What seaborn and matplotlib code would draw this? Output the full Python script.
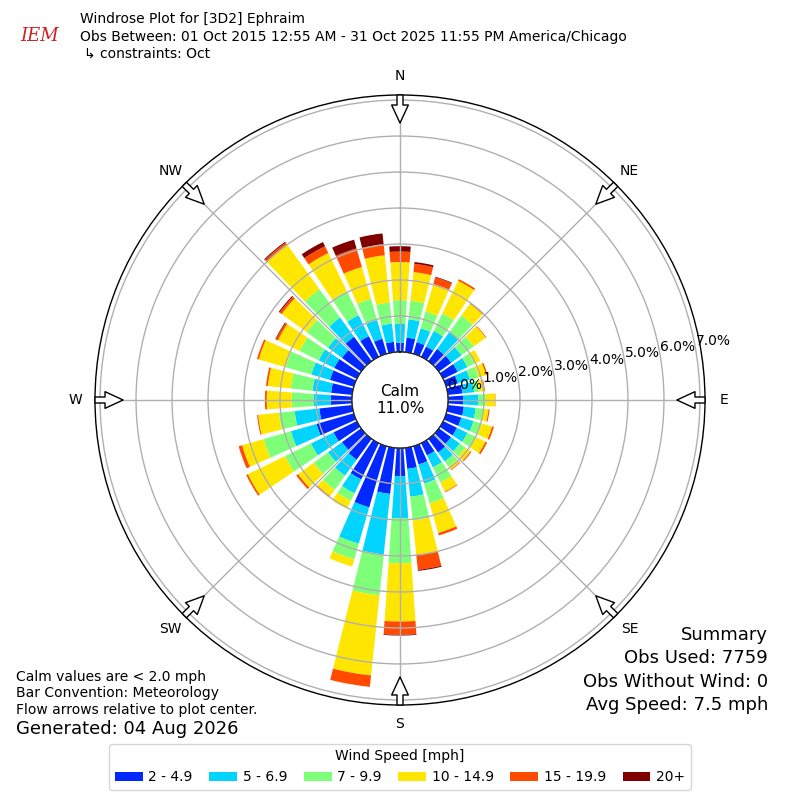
import numpy as np
import pandas as pd
import matplotlib
matplotlib.use("Agg")
import matplotlib.pyplot as plt
import seaborn as sns
from matplotlib.patches import Patch

# direction bins (degrees, meteorological: wind blowing from)
directions = np.arange(0, 360, 10)
speed_bins = ["2 - 4.9", "5 - 6.9", "7 - 9.9", "10 - 14.9", "15 - 19.9", "20+"]
bin_colors = ["#0028ff", "#00d4ff", "#7dff7a", "#ffe600", "#ff4a00", "#800000"]

# percent of observations per direction for each speed bin
pct_2_5 = [0.26, 0.41, 0.34, 0.32, 0.42, 0.43, 0.45, 0.34, 0.41, 0.43, 0.45, 0.44,
           0.43, 0.42, 0.47, 0.38, 0.53, 0.59, 0.78, 1.29, 1.77, 1.12, 0.72, 0.66,
           0.72, 1.08, 0.92, 0.59, 0.59, 0.69, 0.70, 0.66, 0.84, 0.64, 0.44, 0.29]
pct_5_7 = [0.52, 0.51, 0.40, 0.48, 0.60, 0.35, 0.30, 0.35, 0.33, 0.41, 0.33, 0.35,
           0.32, 0.30, 0.31, 0.37, 0.55, 0.78, 1.17, 1.69, 1.05, 0.43, 0.55, 0.48,
           0.70, 0.74, 0.69, 0.48, 0.52, 0.54, 0.48, 0.48, 0.66, 0.65, 0.54, 0.51]
pct_7_10 = [0.66, 0.52, 0.49, 0.54, 0.55, 0.42, 0.22, 0.24, 0.14, 0.21, 0.21, 0.24,
            0.27, 0.20, 0.18, 0.47, 0.57, 0.66, 1.25, 1.14, 0.45, 0.23, 0.48, 0.49,
            0.80, 0.79, 0.44, 0.61, 0.61, 0.74, 0.59, 0.73, 0.97, 0.74, 0.61, 0.59]
pct_10_15 = [1.06, 0.80, 0.79, 1.01, 0.40, 0.41, 0.18, 0.23, 0.14, 0.26, 0.15, 0.30,
             0.29, 0.17, 0.10, 0.28, 0.86, 0.96, 1.62, 2.24, 0.21, 0.25, 0.22, 0.54,
             1.15, 0.62, 0.58, 0.69, 0.64, 0.78, 0.67, 0.86, 1.52, 1.18, 0.92, 1.32]
pct_15_20 = [0.29, 0.23, 0.19, 0.05, 0.03, 0.02, 0.00, 0.04, 0.02, 0.01, 0.03, 0.05,
             0.05, 0.03, 0.02, 0.02, 0.07, 0.42, 0.37, 0.32, 0.00, 0.00, 0.03, 0.06,
             0.05, 0.10, 0.03, 0.05, 0.05, 0.05, 0.06, 0.07, 0.08, 0.21, 0.54, 0.31]
pct_20_up = [0.15, 0.05, 0.02, 0.00, 0.00, 0.00, 0.00, 0.00, 0.00, 0.00, 0.00, 0.00,
             0.00, 0.00, 0.00, 0.00, 0.00, 0.03, 0.02, 0.00, 0.00, 0.00, 0.00, 0.00,
             0.00, 0.00, 0.00, 0.00, 0.00, 0.00, 0.02, 0.03, 0.03, 0.13, 0.25, 0.30]

calm_pct = 11.0
compass = ["N", "NE", "E", "SE", "S", "SW", "W", "NW"]

df = pd.DataFrame({"direction": directions})
for name, vals in zip(speed_bins, [pct_2_5, pct_5_7, pct_7_10, pct_10_15, pct_15_20, pct_20_up]):
    df[name] = vals

sns.set_style("white", {"axes.edgecolor": "black", "text.color": "black",
                        "xtick.color": "black", "ytick.color": "black"})
palette = sns.color_palette(bin_colors)

fig = plt.figure(figsize=(8, 8), dpi=100)
ax = fig.add_axes([0.11875, 0.11875, 0.7625, 0.7625], projection="polar")
ax.set_theta_zero_location("N")
ax.set_theta_direction(-1)
ax.set_axisbelow(False)  # grid rings and % labels sit over the bars

theta = np.deg2rad(df["direction"].values)
bottom = np.zeros(len(df))
for name, color in zip(speed_bins, palette):
    ax.bar(theta, df[name].values, width=np.deg2rad(8), bottom=bottom,
           color=color, linewidth=0, zorder=1)
    bottom = bottom + df[name].values

ax.set_rorigin(-1.333)
ax.set_ylim(0, 7.14)
ax.set_yticks(np.arange(0, 8, 1))
ax.set_yticklabels([f"{v:.1f}%" for v in np.arange(0, 8, 1)], fontsize=10)
ax.set_rlabel_position(80)
ax.set_xticks(np.deg2rad(np.arange(0, 360, 45)))
ax.set_xticklabels(compass, fontsize=10)
ax.tick_params(axis="x", pad=3.5)
ax.grid(True, color="#b0b0b0", linewidth=1.0)
ax.spines["polar"].set_linewidth(1.0)

# calm circle outline
circ = np.linspace(0, 2 * np.pi, 361)
ax.plot(circ, np.zeros_like(circ), color="black", linewidth=1.0, zorder=3)
ax.text(0, -1.333, f"Calm\n{calm_pct:.1f}%", ha="center", va="center",
        fontsize=11, zorder=4)

# flow arrows on the rim pointing to the center
for ang in np.arange(0, 360, 45):
    ax.annotate("", xy=(np.deg2rad(ang), 6.36), xytext=(np.deg2rad(ang), 7.14),
                xycoords="data", annotation_clip=False, zorder=5,
                arrowprops=dict(arrowstyle="simple,head_length=13,head_width=12,tail_width=4.3",
                                mutation_scale=1, fc="white", ec="black", lw=1,
                                shrinkA=0, shrinkB=0))

# header
fig.text(0.025, 0.955, "IEM", color="#cc2222", fontsize=13, style="italic",
         family="serif", ha="left", va="center")
fig.text(0.1, 0.976, "Windrose Plot for [3D2] Ephraim", fontsize=10, va="center")
fig.text(0.1, 0.954, "Obs Between: 01 Oct 2015 12:55 AM - 31 Oct 2025 11:55 PM America/Chicago",
         fontsize=10, va="center")
fig.text(0.105, 0.933, "↳ constraints: Oct", fontsize=10, va="center")

# footer left
fig.text(0.02, 0.154, "Calm values are < 2.0 mph", fontsize=10, va="center")
fig.text(0.02, 0.134, "Bar Convention: Meteorology", fontsize=10, va="center")
fig.text(0.02, 0.113, "Flow arrows relative to plot center.", fontsize=10, va="center")
fig.text(0.02, 0.089, "Generated: 04 Aug 2026", fontsize=13, va="center")

# summary right
summary = ["Summary", "Obs Used: 7759", "Obs Without Wind: 0", "Avg Speed: 7.5 mph"]
for i, line in enumerate(summary):
    fig.text(0.96, 0.206 - i * 0.029, line, fontsize=13, ha="right", va="center")

handles = [Patch(facecolor=c, edgecolor="none") for c in palette]
fig.legend(handles, speed_bins, loc="lower center", bbox_to_anchor=(0.5, 0.004),
           ncol=6, title="Wind Speed [mph]", fontsize=10, title_fontsize=10,
           handletextpad=0.4, columnspacing=1.2, frameon=True)

fig.savefig("out.png", dpi=100)
